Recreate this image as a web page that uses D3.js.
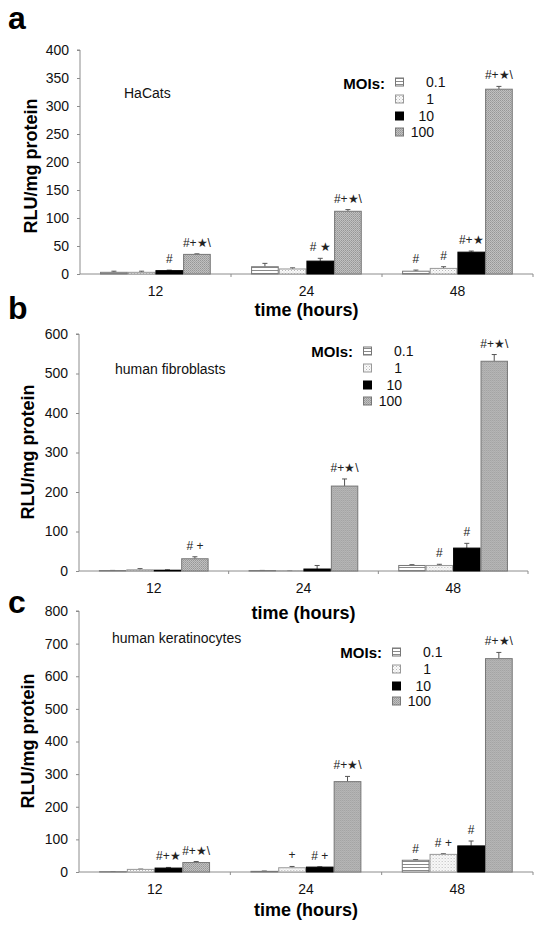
<!DOCTYPE html>
<html><head><meta charset="utf-8">
<script src="https://cdn.jsdelivr.net/npm/d3@7"></script>
<style>body{margin:0;background:#fff} text{font-family:"Liberation Sans",Arial,Helvetica,sans-serif}</style>
</head><body>
<svg id="chart" width="544" height="926"></svg>
<script>
const categories = ["12", "24", "48"];
const mois = ["0.1", "1", "10", "100"];

const hacatsValues = [[3, 3, 6, 35], [13, 9, 23, 112], [5, 10, 39, 330]];
const hacatsErrors = [[2, 2, 1, 1], [6, 2, 5, 3], [2, 3, 2, 5]];
const hacatsMarks = [["", "", "#", "#+★\\"], ["", "", "# ★", "#+★\\"], ["#", "#", "#+★", "#+★\\"]];
const hacatsTicks = [0, 50, 100, 150, 200, 250, 300, 350, 400];

const fibroValues = [[1, 3, 2, 31], [1, 0.5, 5, 215], [14, 14, 58, 531]];
const fibroErrors = [[0.5, 3, 1, 5], [0.5, 0.5, 9, 18], [2, 3, 12, 17]];
const fibroMarks = [["", "", "", "# +"], ["", "", "", "#+★\\"], ["", "#", "#", "#+★\\"]];
const fibroTicks = [0, 100, 200, 300, 400, 500, 600];

const keratValues = [[1, 8, 12, 29], [2, 13, 15, 277], [36, 54, 80, 654]];
const keratErrors = [[0.5, 1, 2, 3], [1, 4, 1, 16], [2, 2, 15, 19]];
const keratMarks = [["", "", "#+★", "#+★\\"], ["", "+", "# +", "#+★\\"], ["#", "# +", "#", "#+★\\"]];
const keratTicks = [0, 100, 200, 300, 400, 500, 600, 700, 800];

const svg = d3.select("#chart");
const defs = svg.append("defs");

// patterns
const pStripe = defs.append("pattern").attr("id", "stripe").attr("patternUnits", "userSpaceOnUse").attr("width", 4).attr("height", 3);
pStripe.append("rect").attr("width", 4).attr("height", 3).attr("fill", "#fff");
pStripe.append("rect").attr("y", 0).attr("width", 4).attr("height", 1).attr("fill", "#8a8a8a");
const pDot = defs.append("pattern").attr("id", "dot").attr("patternUnits", "userSpaceOnUse").attr("width", 3).attr("height", 3);
pDot.append("rect").attr("width", 3).attr("height", 3).attr("fill", "#fafafa");
pDot.append("rect").attr("width", 1).attr("height", 1).attr("fill", "#b8b8b8");
pDot.append("rect").attr("x", 1.5).attr("y", 1.5).attr("width", 1).attr("height", 1).attr("fill", "#d0d0d0");
const pHatch = defs.append("pattern").attr("id", "hatch").attr("patternUnits", "userSpaceOnUse").attr("width", 2).attr("height", 2);
pHatch.append("rect").attr("width", 2).attr("height", 2).attr("fill", "#c0c0c0");
pHatch.append("rect").attr("width", 1).attr("height", 1).attr("fill", "#969696");
pHatch.append("rect").attr("x", 1).attr("y", 1).attr("width", 1).attr("height", 1).attr("fill", "#a4a4a4");

const fills = ["url(#stripe)", "url(#dot)", "#000", "url(#hatch)"];
const strokes = ["#777", "#999", "#000", "#777"];

const panels = [
  { letter: "a", letterY: 28, values: hacatsValues, errors: hacatsErrors, marks: hacatsMarks, ticks: hacatsTicks,
    x0: 80, x1: 533, yTop: 50, yBottom: 274, label: "HaCats", labelX: 124, labelY: 98,
    legX: 395, legMoiY: 84, legRows: [82, 99, 116, 132], yTitleX: 31, yTitleY: 166, xTitleY: 316 },
  { letter: "b", letterY: 318, values: fibroValues, errors: fibroErrors, marks: fibroMarks, ticks: fibroTicks,
    x0: 79, x1: 528, yTop: 334, yBottom: 571, label: "human fibroblasts", labelX: 115, labelY: 374,
    legX: 363, legMoiY: 352, legRows: [351, 368, 385, 401], yTitleX: 28, yTitleY: 452, xTitleY: 619 },
  { letter: "c", letterY: 612, values: keratValues, errors: keratErrors, marks: keratMarks, ticks: keratTicks,
    x0: 79, x1: 533, yTop: 611, yBottom: 872, label: "human keratinocytes", labelX: 112, labelY: 643,
    legX: 392, legMoiY: 653, legRows: [652, 669, 686, 701], yTitleX: 28, yTitleY: 741, xTitleY: 916 }
];

const axisColor = "#8c8c8c";

panels.forEach(p => {
  const g = svg.append("g");
  const yMax = p.ticks[p.ticks.length - 1];
  const y = d3.scaleLinear().domain([0, yMax]).range([p.yBottom, p.yTop]);
  const x = d3.scaleBand().domain(categories).range([p.x0, p.x1]).paddingInner(0).paddingOuter(0);
  const xs = d3.scaleBand().domain(mois).range([x.bandwidth() * 0.133, x.bandwidth() * 0.866]).paddingInner(0).paddingOuter(0);

  // y axis
  const yAxis = d3.axisLeft(y).tickValues(p.ticks).tickSize(3).tickPadding(8).tickFormat(d3.format("d"));
  const ya = g.append("g").attr("transform", `translate(${p.x0},0)`).call(yAxis);
  ya.select(".domain").attr("stroke", axisColor).attr("d", `M-3,${p.yTop}H0V${p.yBottom}`);
  ya.selectAll(".tick line").attr("stroke", axisColor);
  ya.selectAll(".tick text").attr("font-size", 14).attr("fill", "#111").attr("font-family", "Liberation Sans, Arial, sans-serif");

  // x axis
  const xAxis = d3.axisBottom(x).tickSize(0).tickPadding(12);
  const xa = g.append("g").attr("transform", `translate(0,${p.yBottom})`).call(xAxis);
  xa.select(".domain").attr("stroke", axisColor).attr("d", `M${p.x0},0H${p.x1}`);
  xa.selectAll(".tick text").attr("font-size", 14).attr("fill", "#111").attr("font-family", "Liberation Sans, Arial, sans-serif");
  // separator ticks
  g.append("g").selectAll("line").data(categories.slice(1).concat(["end"])).join("line")
    .attr("x1", d => d === "end" ? p.x1 : x(d)).attr("x2", d => d === "end" ? p.x1 : x(d))
    .attr("y1", p.yBottom).attr("y2", p.yBottom + 3).attr("stroke", axisColor);

  // bars
  categories.forEach((c, ci) => {
    const gg = g.append("g").attr("transform", `translate(${x(c)},0)`);
    mois.forEach((m, mi) => {
      const v = p.values[ci][mi];
      const e = p.errors[ci][mi];
      const bx = xs(m), bw = xs.bandwidth();
      const top = y(v);
      // error bar
      gg.append("line").attr("x1", bx + bw / 2).attr("x2", bx + bw / 2)
        .attr("y1", top).attr("y2", y(v + e)).attr("stroke", "#555").attr("stroke-width", 1);
      gg.append("line").attr("x1", bx + bw / 2 - 2.5).attr("x2", bx + bw / 2 + 2.5)
        .attr("y1", y(v + e)).attr("y2", y(v + e)).attr("stroke", "#555").attr("stroke-width", 1);
      gg.append("rect").attr("x", bx + 0.5).attr("y", top).attr("width", bw - 1)
        .attr("height", Math.max(0, p.yBottom - top))
        .attr("fill", fills[mi]).attr("stroke", strokes[mi]).attr("stroke-width", 1);
      const mk = p.marks[ci][mi];
      if (mk) {
        gg.append("text").attr("x", bx + bw / 2).attr("y", y(v + e) - 7)
          .attr("text-anchor", "middle").attr("font-size", 12).attr("fill", "#222")
          .text(mk);
      }
    });
  });

  // panel letter
  svg.append("text").attr("x", 8).attr("y", p.letterY + 1).attr("font-size", 32).attr("font-weight", "bold")
    .attr("fill", "#000").text(p.letter);
  // cell label
  svg.append("text").attr("x", p.labelX).attr("y", p.labelY).attr("font-size", 14).attr("fill", "#111").text(p.label);
  // axis titles
  svg.append("text").attr("transform", `translate(${p.yTitleX + 6},${p.yTitleY}) rotate(-90)`)
    .attr("text-anchor", "middle").attr("font-size", 18).attr("font-weight", "bold").attr("fill", "#000")
    .text("RLU/mg protein");
  svg.append("text").attr("x", (p.x0 + p.x1) / 2).attr("y", p.xTitleY).attr("text-anchor", "middle")
    .attr("font-size", 18).attr("font-weight", "bold").attr("fill", "#000").text("time (hours)");

  // legend
  const lg = svg.append("g");
  lg.append("text").attr("x", p.legX - 10).attr("y", p.legMoiY + 5).attr("text-anchor", "end")
    .attr("font-size", 15).attr("font-weight", "bold").attr("fill", "#000").text("MOIs:");
  mois.forEach((m, mi) => {
    const cy = p.legRows[mi];
    lg.append("rect").attr("x", p.legX + 0.5).attr("y", cy - 4).attr("width", 8).attr("height", 8)
      .attr("fill", fills[mi]).attr("stroke", strokes[mi]);
    const t = lg.append("text").attr("y", cy + 5).attr("font-size", 14).attr("fill", "#111").text(m);
    if (mi === 0) t.attr("x", p.legX + 31).attr("text-anchor", "start");
    else t.attr("x", p.legX + 39).attr("text-anchor", "end");
  });
});
</script>
</body></html>
